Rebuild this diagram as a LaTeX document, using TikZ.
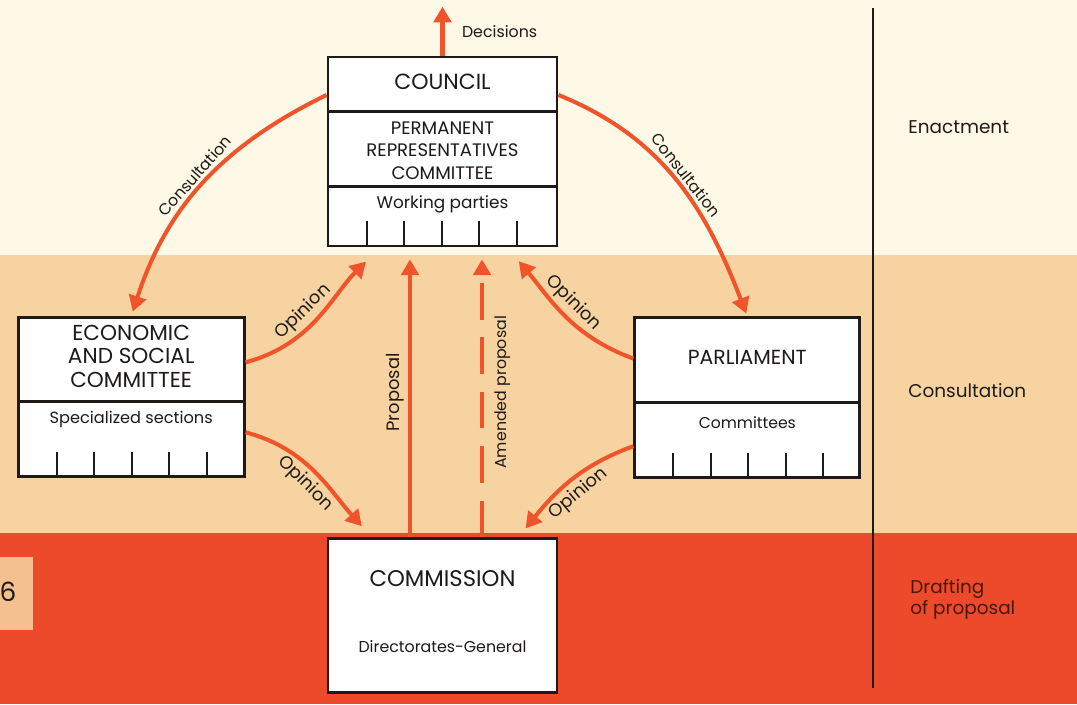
\documentclass[tikz,border=0pt]{standalone}
\usepackage{fontspec}
\setmainfont{Poppins}
\usetikzlibrary{positioning,arrows.meta}
\definecolor{cream}{HTML}{FDF9E6}
\definecolor{sand}{HTML}{F6D3A0}
\definecolor{brick}{HTML}{EC4A2A}
\definecolor{flame}{HTML}{F0542A}
\definecolor{tabcol}{HTML}{F4C08F}
\definecolor{ink}{HTML}{1E1A18}

\begin{document}
\begin{tikzpicture}[
  node distance=1.38cm and 1.6cm,
  mybox/.style={draw=ink,fill=white,line width=1.6pt,inner sep=0pt},
  boxtitle/.style={font=\fontsize{12.3}{13.4}\selectfont,text=ink,align=center,inner sep=0pt},
  boxsub/.style={font=\fontsize{9.2}{11}\selectfont,text=ink,inner sep=0pt},
  lbl/.style={font=\fontsize{9}{11}\selectfont,text=ink,inner sep=2pt},
  biglbl/.style={lbl,font=\fontsize{10.2}{12}\selectfont},
  stage/.style={font=\fontsize{10.5}{12}\selectfont,align=left,anchor=west,inner sep=0pt},
  flow/.style={draw=flame,line width=2.3pt,-{Triangle[length=9pt,width=10pt]}},
  tick/.style={draw=ink,line width=1.1pt}
]
\useasboundingbox (0,0) rectangle (21.54,14.08);

% bands
\fill[brick] (0,0) rectangle (21.54,3.42);
\fill[sand] (0,3.42) rectangle (21.54,8.98);
\fill[cream] (0,8.98) rectangle (21.54,14.08);
\fill[tabcol] (0,1.48) rectangle (0.66,2.94);
\node[font=\fontsize{15}{17}\selectfont,text=ink] (pageno) at (0.16,2.24) {6};
\draw[ink,line width=1.2pt] (17.46,0.32) -- (17.46,13.92);

% the four bodies
\node[mybox,minimum width=4.58cm,minimum height=3.78cm] (council) at (8.85,11.05) {};
\node[mybox,minimum width=4.58cm,minimum height=3.08cm,below=5.8cm of council] (commission) {};
\node[mybox,minimum width=4.52cm,minimum height=3.18cm,below left=1.38cm and 1.62cm of council] (esc) {};
\node[mybox,minimum width=4.5cm,minimum height=3.2cm,below right=1.38cm and 1.5cm of council] (parl) {};

\draw[ink,line width=1.4pt] ([yshift=-1.12cm]council.north west) -- ([yshift=-1.12cm]council.north east);
\draw[ink,line width=1.4pt] ([yshift=-2.62cm]council.north west) -- ([yshift=-2.62cm]council.north east);
\draw[ink,line width=1.4pt] ([yshift=-1.7cm]esc.north west) -- ([yshift=-1.7cm]esc.north east);
\draw[ink,line width=1.4pt] ([yshift=-1.72cm]parl.north west) -- ([yshift=-1.72cm]parl.north east);
\foreach \b in {council,esc,parl}
  \foreach \i in {0,...,4}
    \draw[tick] ([xshift=0.8cm+\i*0.75cm]\b.south west) -- ++(0,0.52);

\node[boxtitle,font=\fontsize{12.5}{14}\selectfont] (councilname) at ([yshift=-0.52cm]council.north) {COUNCIL};
\node[boxtitle,font=\fontsize{10.3}{12.8}\selectfont] (coreper) at ([yshift=-1.9cm]council.north) {PERMANENT\\REPRESENTATIVES\\COMMITTEE};
\node[boxsub,font=\fontsize{9.6}{11}\selectfont] (working) at ([yshift=-2.98cm]council.north) {Working parties};
\node[boxtitle] (escname) at ([yshift=-0.8cm]esc.north) {ECONOMIC\\AND SOCIAL\\COMMITTEE};
\node[boxsub] (sections) at ([yshift=-2.06cm]esc.north) {Specialized sections};
\node[boxtitle,font=\fontsize{11.6}{13}\selectfont] (parlname) at ([yshift=-0.82cm]parl.north) {PARLIAMENT};
\node[boxsub,font=\fontsize{8.9}{11}\selectfont] (committees) at ([yshift=-2.12cm]parl.north) {Committees};
\node[boxtitle,font=\fontsize{12.9}{14}\selectfont] (commname) at ([yshift=-0.82cm]commission.north) {COMMISSION};
\node[boxsub,font=\fontsize{9}{11}\selectfont] (dgs) at ([yshift=-2.18cm]commission.north) {Directorates-General};

% stages
\node[stage,text=ink] (enact) at (18.16,11.54) {Enactment};
\node[stage,text=ink] (consult) at (18.16,6.26) {Consultation};
\node[stage,text=black!70!brick] (draft) at (18.2,2.1) {Drafting\\of proposal};

% flows
\coordinate (dectip) at ([yshift=0.98cm]council.north);
\draw[flow] (council.north) -- (dectip) node[lbl,midway,right=0.28cm] (declbl) {Decisions};

\draw[flow,shorten >=0.1cm] (council.154) to[out=206,in=72]
  node[lbl,midway,sloped,above] (cons1) {Consultation} (esc.north);
\draw[flow,shorten >=0.06cm] (council.26) to[out=-22,in=111]
  node[lbl,midway,sloped,above] (cons2) {Consultation} (parl.north);

\draw[flow,shorten >=0.4cm] (esc.17) to[out=15,in=225]
  node[biglbl,pos=0.45,sloped,above] (op1) {Opinion} (council.237);
\draw[flow,shorten >=0.3cm] (esc.-17) to[out=-15,in=132]
  node[biglbl,midway,sloped,below] (op2) {Opinion} (commission.132);
\draw[flow,shorten >=0.36cm] (parl.161) to[out=160,in=-50]
  node[biglbl,midway,sloped,above] (op3) {Opinion} (council.-56);
\draw[flow,shorten >=0.23cm] (parl.203) to[out=200,in=51]
  node[biglbl,midway,sloped,below] (op4) {Opinion} (commission.46);

\coordinate (propfoot) at ([xshift=-0.65cm]commission.north);
\coordinate (amendfoot) at ([xshift=0.79cm]commission.north);
\draw[flow,shorten >=0.24cm] (propfoot) -- (propfoot |- council.south)
  node[biglbl,midway,sloped,above] (prop) {Proposal};
\draw[flow,shorten >=0.24cm,dash pattern=on 21pt off 10pt] (amendfoot) -- (amendfoot |- council.south)
  node[lbl,midway,sloped,below=4pt] (amend) {Amended proposal};

\end{tikzpicture}
\end{document}
